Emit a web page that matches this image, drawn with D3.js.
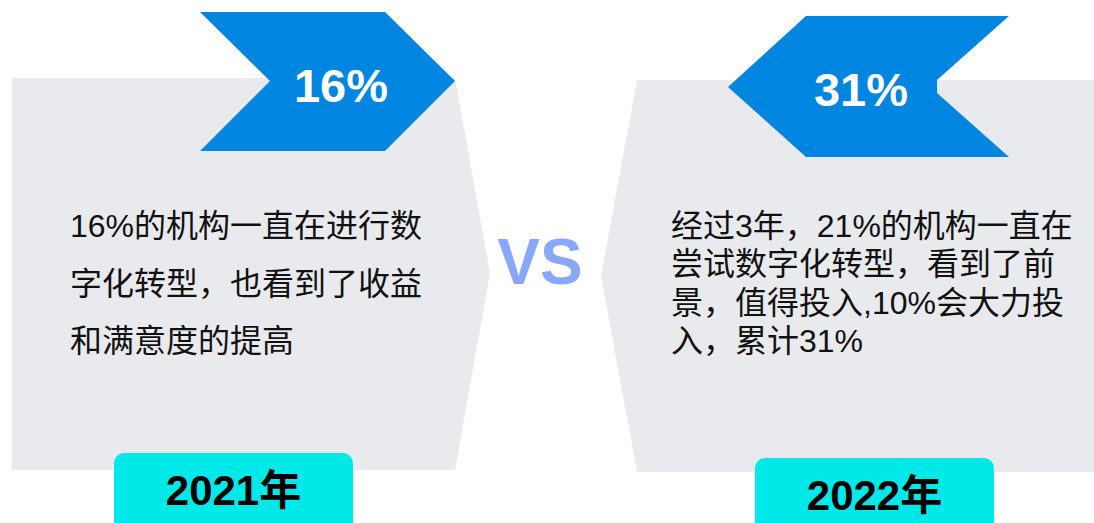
<!DOCTYPE html>
<html>
<head>
<meta charset="utf-8">
<script src="https://cdn.jsdelivr.net/npm/d3@7"></script>
<style>
  html, body { margin: 0; padding: 0; background: #fff; }
  svg { display: block; }
  text { font-family: "Liberation Sans", Arial, "Noto Sans CJK SC", sans-serif; }
</style>
</head>
<body>
<div id="chart"></div>
<script>
var years = ["2021年", "2022年"];
var shares = ["16%", "31%"];
var notes = [
  ["16%的机构一直在进行数", "字化转型，也看到了收益", "和满意度的提高"],
  ["经过3年，21%的机构一直在", "尝试数字化转型，看到了前", "景，值得投入,10%会大力投", "入，累计31%"]
];
var vsLabel = "VS";

var svgWidth = 1094;
var svgHeight = 523;

var svg = d3.select("#chart")
  .append("svg")
  .attr("width", svgWidth)
  .attr("height", svgHeight);

var line = d3.line();

// grey panels, left one points right, right one points left
var panels = [
  [[12, 78], [455, 78], [490, 273], [455, 470], [12, 470]],
  [[637, 80], [1094, 80], [1094, 472], [637, 472], [601, 276]]
];
svg.selectAll(".panel")
  .data(panels)
  .enter()
  .append("path")
  .attr("class", "panel")
  .attr("d", d => line(d) + "Z")
  .attr("fill", "#e9eaee");

// blue chevrons
var chevrons = [
  [[200, 12], [385, 12], [455, 81], [385, 151], [200, 151], [270, 81]],
  [[806, 16], [1009, 16], [937, 80], [937, 93], [1009, 157], [806, 157], [728, 87]]
];
svg.selectAll(".chevron")
  .data(chevrons)
  .enter()
  .append("path")
  .attr("class", "chevron")
  .attr("d", d => line(d) + "Z")
  .attr("fill", "#0085e0");

var shareX = [341, 861];
svg.selectAll(".share")
  .data(shares)
  .enter()
  .append("text")
  .attr("class", "share")
  .attr("x", (d, i) => shareX[i])
  .attr("y", (d, i) => i === 0 ? 102 : 106)
  .attr("text-anchor", "middle")
  .attr("fill", "#fff")
  .attr("font-weight", "bold")
  .attr("font-size", 47)
  .text(d => d);

// description text
var noteX = [70, 671];
var noteStep = [57.5, 38.3];
notes.forEach(function(lines, i) {
  svg.append("g")
    .selectAll("text")
    .data(lines)
    .enter()
    .append("text")
    .attr("x", noteX[i])
    .attr("y", (d, j) => 237 + j * noteStep[i])
    .attr("font-size", 32)
    .attr("fill", "#111")
    .text(d => d);
});

// VS
svg.append("text")
  .attr("x", 540)
  .attr("y", 284)
  .attr("text-anchor", "middle")
  .attr("font-weight", "bold")
  .attr("font-size", 64)
  .attr("fill", "#88a8ff")
  .text(vsLabel);

// year badges
var badgeX = [114, 755];
var badgeY = [453, 458];
var badge = svg.selectAll(".badge")
  .data(years)
  .enter()
  .append("g")
  .attr("class", "badge")
  .attr("transform", (d, i) => `translate(${badgeX[i]}, ${badgeY[i]})`);

badge.append("rect")
  .attr("width", 239)
  .attr("height", 90)
  .attr("rx", 10)
  .attr("fill", "#00e9e9");

badge.append("text")
  .attr("x", 119.5)
  .attr("y", 52)
  .attr("text-anchor", "middle")
  .attr("font-weight", "bold")
  .attr("font-size", 42)
  .attr("fill", "#000")
  .text(d => d);
</script>
</body>
</html>
